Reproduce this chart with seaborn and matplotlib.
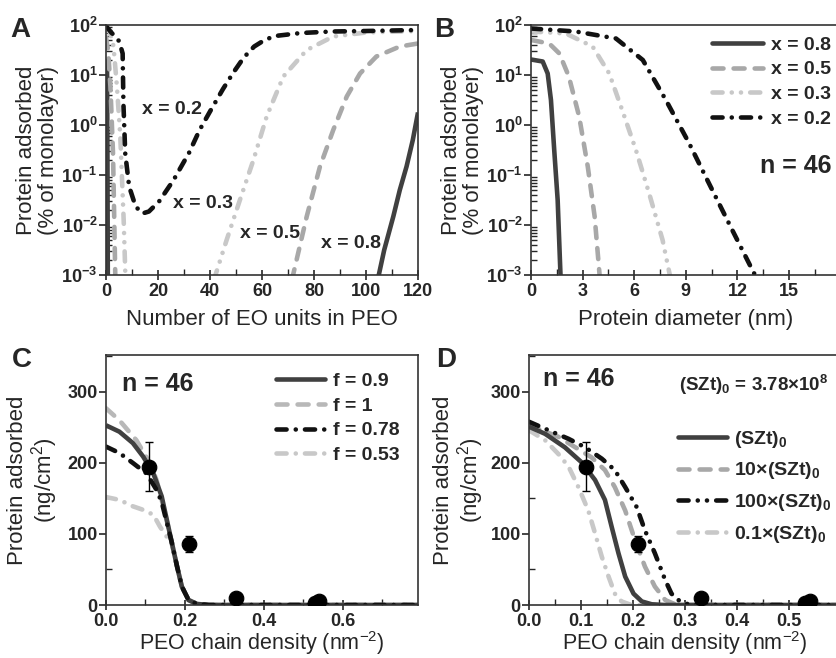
import numpy as np
import matplotlib

matplotlib.use("Agg")
import matplotlib.pyplot as plt
import seaborn as sns
from matplotlib.ticker import LogLocator, NullFormatter, MultipleLocator
from matplotlib.lines import Line2D

# ---------------- data ----------------
# Panel A: log10(% of monolayer) vs number of EO units, two branches per curve
a_x02_n = [0, 2, 4, 5.1, 6.4, 6.7, 7.4, 8.9, 11.4, 14, 16.5, 20.4, 26, 32, 36, 40, 45, 49, 53, 57, 61, 65, 75, 87, 100, 120]
a_x02_log = [1.98, 1.85, 1.75, 1.67, 1.43, 0.43, -0.57, -1.23, -1.63, -1.77, -1.73, -1.53, -1.1, -0.55, -0.1, 0.27, 0.72, 1.05, 1.35, 1.57, 1.7, 1.78, 1.84, 1.87, 1.88, 1.9]
a_x03_n_lo = [0, 1.5, 2.9, 4.2, 5.5, 6.8, 7.5]
a_x03_log_lo = [1.95, 1.85, 1.57, 0.77, -0.23, -1.9, -3.1]
a_x03_n_hi = [41.5, 46.4, 51.5, 56.7, 61.8, 68.2, 77.2, 87.4, 100, 120]
a_x03_log_hi = [-3.1, -2.3, -1.5, -0.7, 0.17, 0.97, 1.5, 1.77, 1.85, 1.88]
a_x05_n_lo = [0, 0.8, 1.7, 2.7, 3.6]
a_x05_log_lo = [1.75, 1.5, 0.77, -0.57, -3.1]
a_x05_n_hi = [71.5, 77.2, 82.3, 87.4, 92.6, 97.7, 104, 113, 120]
a_x05_log_hi = [-3.1, -1.83, -0.83, -0.1, 0.57, 1.03, 1.37, 1.57, 1.63]
a_x08_n_lo = [0, 0.4, 0.55, 0.7]
a_x08_log_lo = [1.31, 1.25, -0.5, -3.1]
a_x08_n_hi = [104.5, 107, 110.5, 113, 115.6, 118, 120]
a_x08_log_hi = [-3.1, -2.5, -1.83, -1.3, -0.83, -0.3, 0.25]
a_labels = ["x = 0.2", "x = 0.3", "x = 0.5", "x = 0.8"]

# Panel B: log10(% of monolayer) vs protein diameter (nm)
b_x08_d = [0, 0.68, 0.97, 1.16, 1.35, 1.55, 1.72]
b_x08_log = [1.31, 1.27, 1.03, 0.5, -0.5, -1.5, -3.05]
b_x05_d = [0, 1.06, 1.65, 2.2, 2.8, 3.3, 3.7, 4.0]
b_x05_log = [1.7, 1.63, 1.43, 0.97, 0.17, -0.83, -1.83, -3.05]
b_x03_d = [0, 2.03, 3.58, 4.55, 5.3, 6.1, 6.87, 7.65, 8.1]
b_x03_log = [1.87, 1.83, 1.57, 1.03, 0.3, -0.5, -1.37, -2.3, -3.05]
b_x02_d = [0, 2.6, 4.94, 6.5, 7.84, 9.2, 10.35, 11.7, 12.87, 13.1]
b_x02_log = [1.93, 1.87, 1.73, 1.3, 0.5, -0.37, -1.17, -2.1, -2.9, -3.05]
b_labels = ["x = 0.8", "x = 0.5", "x = 0.3", "x = 0.2"]

# Panel C: protein adsorbed (ng/cm2) vs PEO chain density, varying f
c_f09_x = [0, 0.034, 0.068, 0.094, 0.12, 0.141, 0.154, 0.167, 0.18, 0.192, 0.209, 0.23, 0.26, 0.79]
c_f09_y = [253, 244, 228, 209, 185, 153, 120, 87, 54, 26, 7, 1.5, 0, 0]
c_f1_x = [0, 0.034, 0.077, 0.111, 0.128, 0.141, 0.154, 0.167, 0.18, 0.192, 0.209, 0.23, 0.26, 0.79]
c_f1_y = [277, 260, 232, 200, 176, 148, 118, 87, 54, 26, 7, 1.5, 0, 0]
c_f078_x = [0, 0.034, 0.068, 0.103, 0.128, 0.141, 0.154, 0.167, 0.18, 0.192, 0.209, 0.23, 0.26, 0.79]
c_f078_y = [223, 214, 200, 185, 162, 145, 116, 87, 54, 26, 7, 1.5, 0, 0]
c_f053_x = [0, 0.034, 0.068, 0.094, 0.12, 0.137, 0.154, 0.167, 0.18, 0.192, 0.209, 0.23, 0.26, 0.79]
c_f053_y = [152, 148, 139, 134, 127, 110, 96, 85, 54, 26, 7, 1.5, 0, 0]
c_labels = ["f = 0.9", "f = 1", "f = 0.78", "f = 0.53"]

# Panel D: varying (SZt)
d_s1_x = [0, 0.031, 0.069, 0.101, 0.127, 0.146, 0.159, 0.172, 0.185, 0.201, 0.217, 0.236, 0.26, 0.6]
d_s1_y = [251, 241, 222, 201, 176, 148, 110, 73, 40, 16, 5, 1, 0, 0]
d_s10_x = [0, 0.056, 0.12, 0.146, 0.165, 0.185, 0.204, 0.223, 0.242, 0.262, 0.281, 0.3, 0.6]
d_s10_y = [253, 237, 208, 190, 166, 133, 91, 54, 26, 7, 1, 0, 0]
d_s100_x = [0, 0.044, 0.076, 0.108, 0.14, 0.165, 0.185, 0.207, 0.223, 0.242, 0.262, 0.274, 0.287, 0.306, 0.33, 0.6]
d_s100_y = [258, 244, 234, 222, 206, 190, 166, 138, 105, 73, 35, 16, 7, 1, 0, 0]
d_s01_x = [0, 0.031, 0.056, 0.076, 0.095, 0.114, 0.127, 0.14, 0.153, 0.165, 0.178, 0.197, 0.6]
d_s01_y = [246, 232, 213, 195, 166, 133, 101, 68, 40, 16, 5, 0, 0]
d_labels = ["(SZt)$_\\mathbf{0}$", "10×(SZt)$_\\mathbf{0}$", "100×(SZt)$_\\mathbf{0}$", "0.1×(SZt)$_\\mathbf{0}$"]

# experimental points (C and D)
exp_x = [0.11, 0.21, 0.33, 0.53, 0.54]
exp_y = [195, 86, 10, 3, 6]
exp_err = [35, 11, 0, 0, 0]

# tick labels
log_ticks = [1e-3, 1e-2, 1e-1, 1e0, 1e1, 1e2]
log_tick_labels = ["$\\mathbf{10^{-3}}$", "$\\mathbf{10^{-2}}$", "$\\mathbf{10^{-1}}$",
                   "$\\mathbf{10^{0}}$", "$\\mathbf{10^{1}}$", "$\\mathbf{10^{2}}$"]
a_xticks = [0, 20, 40, 60, 80, 100, 120]
b_xticks = [0, 3, 6, 9, 12, 15]
c_xticks = [0.0, 0.2, 0.4, 0.6]
d_xticks = [0.0, 0.1, 0.2, 0.3, 0.4, 0.5]
cd_yticks = [0, 100, 200, 300]

# ---------------- style ----------------
sns.set_style("ticks")
plt.rcParams["font.family"] = ["Liberation Sans", "DejaVu Sans"]
plt.rcParams["mathtext.fontset"] = "custom"
plt.rcParams["mathtext.rm"] = "Liberation Sans"
plt.rcParams["mathtext.bf"] = "Liberation Sans:bold"
plt.rcParams["mathtext.it"] = "Liberation Sans:italic"
plt.rcParams["axes.linewidth"] = 1.2
plt.rcParams["axes.edgecolor"] = "#333333"

LW = 3.3
DARK = "#404040"
MID = "#a8a8a8"
LIGHT = "#c8c8c8"
BLACK = "#111111"
SOLID = "-"
DASH = (0, (2.4, 2.2))
DASHDOT = (0, (2.2, 2.0, 0.01, 2.0))
DASHDOTDOT = (0, (2.2, 2.0, 0.01, 2.0, 0.01, 2.0))

fig = plt.figure(figsize=(8.36, 6.58), dpi=100)
W, H = 836.0, 658.0


def rect(left, top, right, bottom):
    return [left / W, 1 - bottom / H, (right - left) / W, (bottom - top) / H]


axA = fig.add_axes(rect(106, 25, 418, 275))
axB = fig.add_axes(rect(531, 25, 840.6, 275))
axC = fig.add_axes(rect(106, 355, 418, 605))
axD = fig.add_axes(rect(529, 355, 841, 605))


def curve(ax, x, y, color, ls, label=None):
    sns.lineplot(x=x, y=y, ax=ax, color=color, linewidth=LW, linestyle=ls,
                 dash_capstyle="round", solid_capstyle="butt", sort=False,
                 estimator=None, legend=False, label=label)


def pow10(v):
    return 10.0 ** np.asarray(v)


# ---------------- panel A ----------------
curve(axA, a_x08_n_lo, pow10(a_x08_log_lo), DARK, SOLID)
curve(axA, a_x08_n_hi, pow10(a_x08_log_hi), DARK, SOLID)
curve(axA, a_x05_n_lo, pow10(a_x05_log_lo), MID, DASH)
curve(axA, a_x05_n_hi, pow10(a_x05_log_hi), MID, DASH)
curve(axA, a_x03_n_lo, pow10(a_x03_log_lo), LIGHT, DASHDOTDOT)
curve(axA, a_x03_n_hi, pow10(a_x03_log_hi), LIGHT, DASHDOTDOT)
curve(axA, a_x02_n, pow10(a_x02_log), BLACK, DASHDOT)
axA.set_yscale("log")
axA.set_xlim(0, 120)
axA.set_ylim(1e-3, 1e2)
axA.set_xticks(a_xticks, labels=[str(t) for t in a_xticks], fontweight="bold")
axA.xaxis.set_minor_locator(MultipleLocator(10))
axA.set_xlabel("Number of EO units in PEO", fontsize=16)
for lbl, pos in zip(a_labels, [(0.212, 0.664), (0.311, 0.284), (0.526, 0.164), (0.785, 0.128)]):
    axA.text(pos[0], pos[1], lbl, transform=axA.transAxes, ha="center", va="center",
             fontsize=14, fontweight="bold")

# ---------------- panel B ----------------
curve(axB, b_x08_d, pow10(b_x08_log), DARK, SOLID)
curve(axB, b_x05_d, pow10(b_x05_log), MID, DASH)
curve(axB, b_x03_d, pow10(b_x03_log), LIGHT, DASHDOTDOT)
curve(axB, b_x02_d, pow10(b_x02_log), BLACK, DASHDOT)
axB.set_yscale("log")
axB.set_xlim(0, 18)
axB.set_ylim(1e-3, 1e2)
axB.set_xticks(b_xticks, labels=[str(t) for t in b_xticks], fontweight="bold")
axB.xaxis.set_minor_locator(MultipleLocator(1.5))
axB.set_xlabel("Protein diameter (nm)", fontsize=16)
axB.text(0.969, 0.436, "n = 46", transform=axB.transAxes, ha="right", va="center",
         fontsize=18, fontweight="bold")
hB = [Line2D([], [], color=c, lw=LW, ls=s, dash_capstyle="round")
      for c, s in zip([DARK, MID, LIGHT, BLACK], [SOLID, DASH, DASHDOTDOT, DASHDOT])]
axB.legend(hB, b_labels, loc="upper left", bbox_to_anchor=(0.585, 0.955), frameon=False,
           prop={"size": 14, "weight": "bold"}, handlelength=2.6, handletextpad=0.45,
           labelspacing=0.36, borderpad=0, borderaxespad=0)

for ax in (axA, axB):
    ax.set_yticks(log_ticks, labels=log_tick_labels, fontsize=12.5)
    ax.yaxis.set_minor_locator(LogLocator(base=10, subs=np.arange(2, 10), numticks=20))
    ax.yaxis.set_minor_formatter(NullFormatter())
    ax.set_ylabel("Protein adsorbed\n(% of monolayer)", fontsize=16, linespacing=1.05)

# ---------------- panel C ----------------
curve(axC, c_f053_x, c_f053_y, LIGHT, DASHDOT)
curve(axC, c_f1_x, c_f1_y, "#b8b8b8", DASH)
curve(axC, c_f09_x, c_f09_y, DARK, SOLID)
curve(axC, c_f078_x, c_f078_y, BLACK, DASHDOT)
axC.set_xlim(0, 0.79)
axC.set_xticks(c_xticks, labels=[f"{t:.1f}" for t in c_xticks], fontweight="bold")
axC.xaxis.set_minor_locator(MultipleLocator(0.1))
axC.text(0.051, 0.884, "n = 46", transform=axC.transAxes, ha="left", va="center",
         fontsize=18, fontweight="bold")
hC = [Line2D([], [], color=c, lw=LW, ls=s, dash_capstyle="round")
      for c, s in zip([DARK, "#b8b8b8", BLACK, LIGHT], [SOLID, DASH, DASHDOT, DASHDOT])]
axC.legend(hC, c_labels, loc="upper left", bbox_to_anchor=(0.545, 0.93), frameon=False,
           prop={"size": 14, "weight": "bold"}, handlelength=2.5, handletextpad=0.45,
           labelspacing=0.36, borderpad=0, borderaxespad=0)

# ---------------- panel D ----------------
curve(axD, d_s01_x, d_s01_y, LIGHT, DASHDOT)
curve(axD, d_s10_x, d_s10_y, MID, DASH)
curve(axD, d_s1_x, d_s1_y, DARK, SOLID)
curve(axD, d_s100_x, d_s100_y, BLACK, DASHDOTDOT)
axD.set_xlim(0, 0.6)
axD.set_xticks(d_xticks, labels=[f"{t:.1f}" for t in d_xticks], fontweight="bold")
axD.xaxis.set_minor_locator(MultipleLocator(0.05))
axD.text(0.045, 0.904, "n = 46", transform=axD.transAxes, ha="left", va="center",
         fontsize=18, fontweight="bold")
axD.text(0.481, 0.88, "(SZt)$_\\mathbf{0}$ = 3.78×10$^\\mathbf{8}$", transform=axD.transAxes,
         ha="left", va="center", fontsize=13.5, fontweight="bold")
hD = [Line2D([], [], color=c, lw=LW, ls=s, dash_capstyle="round")
      for c, s in zip([DARK, MID, BLACK, LIGHT], [SOLID, DASH, DASHDOTDOT, DASHDOT])]
axD.legend(hD, d_labels, loc="upper left", bbox_to_anchor=(0.478, 0.705), frameon=False,
           prop={"size": 14, "weight": "bold"}, handlelength=2.5, handletextpad=0.35,
           labelspacing=0.55, borderpad=0, borderaxespad=0)

for ax in (axC, axD):
    ax.set_ylim(0, 352)
    ax.set_yticks(cd_yticks, labels=[str(t) for t in cd_yticks], fontweight="bold", fontsize=13)
    ax.yaxis.set_minor_locator(MultipleLocator(50))
    ax.set_ylabel("Protein adsorbed\n(ng/cm$^2$)", fontsize=16, linespacing=1.05)
    ax.set_xlabel("PEO chain density (nm$^{-2}$)", fontsize=15.5)
    ax.errorbar(exp_x, exp_y, yerr=exp_err, fmt="none", ecolor="black", elinewidth=1,
                capsize=3, zorder=5)
    sns.scatterplot(x=exp_x, y=exp_y, ax=ax, color="black", s=110, edgecolor="black",
                    zorder=6, legend=False)

# ---------------- common axis styling ----------------
for ax, lx, ly in ((axA, -0.15, -0.135), (axB, -0.152, -0.135),
                   (axC, -0.147, -0.097), (axD, -0.138, -0.097)):
    ax.tick_params(axis="x", which="major", direction="inout", length=7, width=1.2,
                   labelsize=13, pad=2)
    ax.tick_params(axis="x", which="minor", direction="in", length=4, width=1)
    ax.tick_params(axis="y", which="major", direction="out", length=5, width=1.2,
                   labelsize=13, pad=1)
    ax.tick_params(axis="y", which="minor", direction="in", length=4, width=1)
    for s in ax.spines.values():
        s.set_visible(True)
    ax.yaxis.set_label_coords(lx, 0.5)
    ax.xaxis.set_label_coords(0.5, ly)

for letter, x, y in (("A", 10, 17), ("B", 434, 17), ("C", 12, 347), ("D", 436, 347)):
    fig.text(x / W, 1 - y / H, letter, ha="left", va="top", fontsize=20, fontweight="bold")

fig.savefig("out.png", dpi=100, facecolor="white")
